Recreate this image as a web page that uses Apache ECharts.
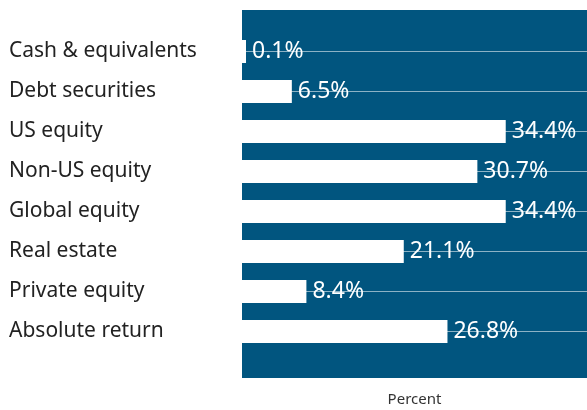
<!DOCTYPE html>
<html>
<head>
<meta charset="utf-8">
<script src="https://cdn.jsdelivr.net/npm/echarts@6/dist/echarts.min.js"></script>
<style>
  html, body { margin: 0; padding: 0; background: #fff; }
  #main { width: 587px; height: 410px; }
</style>
</head>
<body>
<div id="main"></div>
<script>
// asset classes, top to bottom
const categories = ['Cash & equivalents', 'Debt securities', 'US equity', 'Non-US equity',
  'Global equity', 'Real estate', 'Private equity', 'Absolute return'];
const values = [0.1, 6.5, 34.4, 30.7, 34.4, 21.1, 8.4, 26.8];
const axisName = 'Percent';

let chartDom = document.getElementById('main');
let myChart = echarts.init(chartDom);
let option;

option = {
  animation: false,
  textStyle: { fontFamily: 'Noto Sans' },
  graphic: [
    {
      type: 'rect',
      z: -100,
      shape: { x: 242, y: 10, width: 345, height: 368 },
      style: { fill: '#01557f' }
    }
  ],
  grid: {
    left: 242,
    right: 0,
    top: 51.5,
    bottom: 78.5,
    outerBoundsMode: 'none',
    containLabel: false
  },
  xAxis: {
    type: 'value',
    min: 0,
    max: 45,
    name: axisName,
    nameLocation: 'middle',
    nameGap: 61,
    nameTextStyle: { fontSize: 15, color: '#333' },
    axisLine: { show: false },
    axisTick: { show: false },
    axisLabel: { show: false },
    splitLine: { show: false }
  },
  yAxis: {
    type: 'category',
    inverse: true,
    boundaryGap: false,
    data: categories,
    axisLine: { show: false },
    axisTick: { show: false },
    axisLabel: {
      align: 'left',
      margin: 233,
      fontSize: 21,
      color: '#222',
      padding: [0, 0, 6, 0]
    },
    splitLine: {
      show: true,
      lineStyle: { color: 'rgba(255,255,255,0.55)', width: 1 }
    }
  },
  series: [
    {
      type: 'bar',
      data: values,
      barWidth: 23,
      barMinHeight: 4,
      itemStyle: { color: '#ffffff' },
      label: {
        show: true,
        position: 'right',
        distance: 6,
        color: '#ffffff',
        fontSize: 23,
        formatter: function (p) { return p.value.toFixed(1) + '%'; }
      }
    }
  ]
};

option && myChart.setOption(option);
</script>
</body>
</html>
